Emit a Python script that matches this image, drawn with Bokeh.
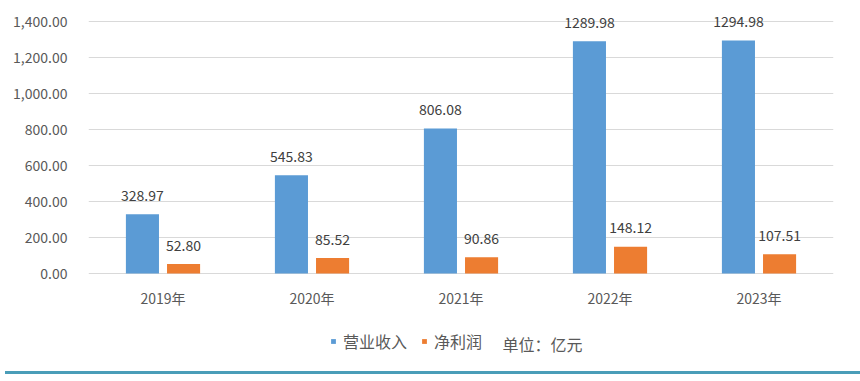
from bokeh.plotting import figure
from bokeh.models import (ColumnDataSource, FactorRange, Range1d, NumeralTickFormatter,
                          LabelSet, Legend, LegendItem, Label, Div)
from bokeh.core.properties import value
from bokeh.transform import dodge
from bokeh.layouts import column
from bokeh.embed import file_html
from bokeh.resources import INLINE

years = ["2019年", "2020年", "2021年", "2022年", "2023年"]
revenue = [328.97, 545.83, 806.08, 1289.98, 1294.98]
profit = [52.80, 85.52, 90.86, 148.12, 107.51]
series_names = ["营业收入", "净利润"]
unit_text = "单位：亿元"
y_ticks = [0, 200, 400, 600, 800, 1000, 1200, 1400]

FONT = "Noto Sans CJK SC"
BLUE = "#5B9BD5"
ORANGE = "#ED7D31"

src = ColumnDataSource(dict(
    years=years, revenue=revenue, profit=profit,
    zero=[0] * len(years),
    rev_lbl=[f"{v:.2f}" for v in revenue],
    pro_lbl=[f"{v:.2f}" for v in profit],
))

p = figure(width=860, height=366, x_range=FactorRange(*years, range_padding=0),
           y_range=Range1d(-494.4, 1500), toolbar_location=None, output_backend="svg",
           min_border_left=88, min_border_right=27, min_border_top=3, min_border_bottom=4)
p.outline_line_color = None
p.background_fill_color = "white"
p.border_fill_color = "white"
p.xaxis.visible = False

r1 = p.vbar(x=dodge("years", -0.138, range=p.x_range), top="revenue", width=0.222,
            source=src, fill_color=BLUE, line_color=None)
r2 = p.vbar(x=dodge("years", 0.138, range=p.x_range), top="profit", width=0.222,
            source=src, fill_color=ORANGE, line_color=None)

for col, lbl, off in (("revenue", "rev_lbl", -0.138), ("profit", "pro_lbl", 0.138)):
    ls = LabelSet(x=dodge("years", off, range=p.x_range), y=col, text=lbl, source=src,
                  y_offset=19, text_align="center", text_baseline="middle",
                  text_font=value(FONT), text_font_size=value("14px"),
                  text_color=value("#404040"))
    p.add_layout(ls)

# category labels under the baseline
cat = LabelSet(x="years", y="zero", text="years", source=src, y_offset=-24,
               text_align="center", text_baseline="middle",
               text_font=value(FONT), text_font_size=value("14px"),
               text_color=value("#595959"))
p.add_layout(cat)

p.xgrid.grid_line_color = None
p.ygrid.ticker = y_ticks
p.ygrid.grid_line_color = "#D9D9D9"
p.ygrid.grid_line_width = 1

p.yaxis.ticker = y_ticks
p.yaxis.formatter = NumeralTickFormatter(format="0,0.00")
p.yaxis.axis_line_color = None
p.yaxis.major_tick_line_color = None
p.yaxis.minor_tick_line_color = None
p.yaxis.major_label_standoff = 15
p.yaxis.major_label_text_font = FONT
p.yaxis.major_label_text_font_size = "14px"
p.yaxis.major_label_text_color = "#595959"

legend = Legend(items=[LegendItem(label=series_names[0], renderers=[r1]),
                       LegendItem(label=series_names[1], renderers=[r2])],
                location=(242, 9), orientation="horizontal",
                glyph_width=6, glyph_height=6, label_standoff=7, spacing=14,
                padding=0, margin=0, label_height=20,
                label_text_font=FONT, label_text_font_size="16px",
                label_text_color="#595959", border_line_color=None,
                background_fill_alpha=0)
p.add_layout(legend, "center")

unit = Label(x=2.779, y=0, y_offset=-70, text=unit_text, text_align="left",
             text_baseline="middle", text_font=FONT, text_font_size="16px",
             text_color="#595959")
p.add_layout(unit)

rule = Div(text="", width=860, height=3,
           styles={"background-color": "#4A9DB8", "width": "860px", "height": "3px"})

layout = column(p, rule, spacing=0)
open("out.html", "w").write(file_html(layout, INLINE))
